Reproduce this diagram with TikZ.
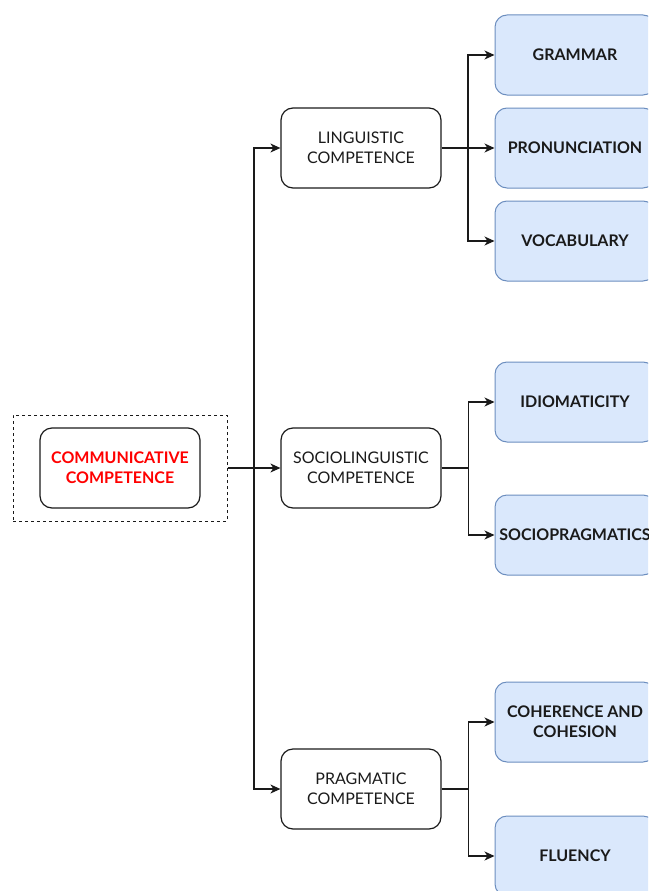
\documentclass[tikz,border=0pt]{standalone}
\usepackage{fontspec}
\setmainfont{Lato}
\usetikzlibrary{arrows.meta,calc}
\definecolor{leafFill}{HTML}{DAE8FC}
\definecolor{leafLine}{HTML}{6C8EBF}
\definecolor{ink}{HTML}{1A1A1A}
\tikzset{
  every node/.style={font=\fontsize{16}{20}\selectfont, text=ink, align=center},
  midbox/.style={draw=ink, line width=1.2pt, rounded corners=12pt, minimum width=160pt, minimum height=80pt, inner sep=0pt},
  leaf/.style={draw=leafLine, fill=leafFill, line width=1pt, rounded corners=12pt, minimum width=160pt, minimum height=80pt, inner sep=0pt, font=\fontsize{16}{20}\selectfont\bfseries},
  frame/.style={draw=ink, dashed, dash pattern=on 3pt off 3pt, line width=1pt, minimum width=214pt, minimum height=106pt},
  arr/.style={draw=ink, line width=1.2pt, -{Stealth[length=10pt,width=9pt,inset=3pt]}},
  link/.style={draw=ink, line width=1.2pt}
}
\begin{document}
\begin{tikzpicture}[x=1pt,y=-1pt]
\useasboundingbox (0,0) rectangle (648,891);
\clip (0,0) rectangle (648,891);

% root
\node[frame] (frame) at (120,468) {};
\node[midbox, text=red, font=\fontsize{16}{20}\selectfont\bfseries] (comm) at (120,468) {COMMUNICATIVE\\COMPETENCE};

% competences
\node[midbox] (ling) at (361,148) {LINGUISTIC\\COMPETENCE};
\node[midbox] (socio) at (361,468) {SOCIOLINGUISTIC\\COMPETENCE};
\node[midbox] (prag) at (361,789) {PRAGMATIC\\COMPETENCE};

% components
\node[leaf] (gram) at (575,55) {GRAMMAR};
\node[leaf] (pron) at (575,148) {PRONUNCIATION};
\node[leaf] (voc) at (575,241) {VOCABULARY};
\node[leaf] (idio) at (575,402) {IDIOMATICITY};
\node[leaf] (sprag) at (575,535) {SOCIOPRAGMATICS};
\node[leaf] (coh) at (575,722) {COHERENCE AND\\COHESION};
\node[leaf] (flu) at (575,856) {FLUENCY};

% trunk from the root
\coordinate (trunk) at ($(frame.east)!0.5!(socio.west)$);
\draw[arr] (frame.east) -- (socio.west);
\draw[arr] (trunk) |- (ling.west);
\draw[arr] (trunk) |- (prag.west);

% linguistic branch
\coordinate (bl) at ($(ling.east)!0.5!(pron.west)$);
\draw[arr] (ling.east) -- (pron.west);
\draw[arr] (bl) |- (gram.west);
\draw[arr] (bl) |- (voc.west);

% sociolinguistic branch
\coordinate (bs) at ($(socio.east)+(27,0)$);
\draw[link] (socio.east) -- (bs);
\draw[arr] (bs) |- (idio.west);
\draw[arr] (bs) |- (sprag.west);

% pragmatic branch
\coordinate (bp) at ($(prag.east)+(27,0)$);
\draw[link] (prag.east) -- (bp);
\draw[arr] (bp) |- (coh.west);
\draw[arr] (bp) |- (flu.west);
\end{tikzpicture}
\end{document}
